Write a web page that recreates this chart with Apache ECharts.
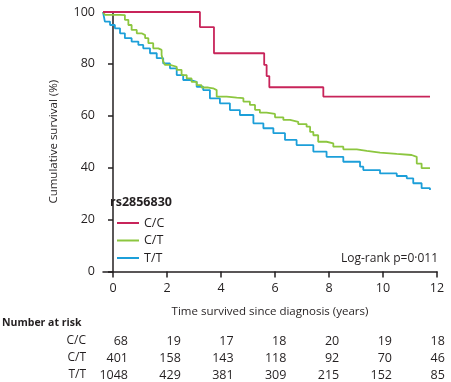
<!DOCTYPE html>
<html><head><meta charset="utf-8">
<script src="https://cdn.jsdelivr.net/npm/echarts@6/dist/echarts.min.js"></script>
<style>html,body{margin:0;padding:0;background:#fff}#c{width:451px;height:382px}</style>
</head><body><div id="c"></div>
<script>
// ---- data ----
const groups = ['C/C', 'C/T', 'T/T'];
const colors = ['#c8245a', '#8cc63f', '#1c9fd9'];
const xTicks = [0, 2, 4, 6, 8, 10, 12];
const yTicks = [0, 20, 40, 60, 80, 100];
// Kaplan-Meier curves: [time (years), cumulative survival %]
const ccCurve = [[-0.37,100],[3.22,94.2],[3.74,84.1],[5.6,79.6],[5.69,75.3],[5.79,71.0],[7.79,67.4],[11.74,67.4]];
const ctCurve = [[-0.37,100],[-0.3,98.9],[0.26,98.8],[0.44,97.0],[0.57,95.0],[0.69,93.1],[0.88,91.8],[1.06,91.1],[1.19,89.9],[1.31,88.0],[1.49,86.0],[1.68,85.4],[1.80,83.4],[1.86,80.9],[1.93,79.6],[2.11,78.9],[2.36,77.7],[2.54,75.7],[2.73,74.4],[2.91,73.1],[3.10,71.8],[3.28,70.9],[3.53,70.6],[3.71,69.9],[3.84,67.4],[4.21,67.0],[4.58,66.8],[4.83,65.5],[5.07,64.2],[5.26,62.3],[5.44,61.2],[5.69,60.7],[6.0,59.4],[6.31,58.4],[6.56,57.7],[6.86,56.8],[7.17,55.8],[7.30,53.8],[7.42,52.5],[7.60,50.0],[7.91,49.4],[8.16,48.1],[8.53,47.1],[9.03,46.5],[9.40,45.8],[9.89,45.3],[10.51,44.9],[11.06,44.2],[11.25,41.6],[11.43,39.8],[11.74,39.8]];
const ttCurve = [[-0.37,100],[-0.30,96.3],[-0.11,95.0],[0.07,93.7],[0.26,91.8],[0.44,89.9],[0.69,88.6],[0.94,87.3],[1.12,86.0],[1.37,84.1],[1.62,82.2],[1.86,80.2],[2.11,78.3],[2.36,75.7],[2.60,73.8],[2.85,73.1],[3.10,71.2],[3.34,69.9],[3.59,66.7],[3.96,64.8],[4.33,62.2],[4.70,60.3],[5.20,57.1],[5.57,55.2],[5.94,53.3],[6.37,50.7],[6.80,48.7],[7.42,46.2],[7.91,44.2],[8.53,42.3],[9.15,40.4],[9.27,39.1],[9.89,37.8],[10.51,36.8],[10.88,35.9],[11.12,34.0],[11.43,32.1],[11.74,31.4]];
const riskCC = [68, 19, 17, 18, 20, 19, 18];
const riskCT = [401, 158, 143, 118, 92, 70, 46];
const riskTT = [1048, 429, 381, 309, 215, 152, 85];
const legendTitle = 'rs2856830';
const pText = 'Log-rank p=0·011';
const xName = 'Time survived since diagnosis (years)';
const yName = 'Cumulative survival (%)';

// ---- chart ----
const FONT = '"Open Sans", sans-serif';
const INK = '#231f20';
const chart = echarts.init(document.getElementById('c'), null, {renderer: 'canvas'});
const curves = [ccCurve, ctCurve, ttCurve];
const option = {
  animation: false,
  textStyle: {fontFamily: FONT, color: INK},
  grid: {left: 103, right: 14, top: 12, bottom: 110.5},
  xAxis: {
    type: 'value', min: -0.37, max: 12,
    splitLine: {show: false},
    axisLine: {lineStyle: {color: INK, width: 1.5}},
    axisTick: {customValues: xTicks, length: 6, lineStyle: {color: INK, width: 1.5}},
    axisLabel: {customValues: xTicks, margin: 10, fontSize: 12.5, color: INK, fontFamily: FONT},
    name: xName, nameLocation: 'middle', nameGap: 34,
    nameTextStyle: {fontSize: 11.5, color: INK, fontFamily: FONT}
  },
  yAxis: {
    type: 'value', min: 0, max: 100, interval: 20,
    splitLine: {show: false},
    axisLine: {show: true, lineStyle: {color: INK, width: 1.5}},
    axisTick: {show: true, length: 5, lineStyle: {color: INK, width: 1.5}},
    axisLabel: {margin: 8, fontSize: 12.5, color: INK, fontFamily: FONT},
    name: yName, nameLocation: 'middle', nameGap: 43,
    nameTextStyle: {fontSize: 11.5, color: INK, fontFamily: FONT}
  },
  legend: {
    orient: 'vertical', left: 112, top: 211,
    icon: 'rect', itemWidth: 22, itemHeight: 2, itemGap: 3.5,
    textStyle: {fontSize: 12.5, color: INK, fontFamily: FONT, lineHeight: 14},
    data: groups
  },
  series: groups.map((g, i) => ({
    name: g, type: 'line', step: 'end', data: curves[i],
    showSymbol: false, symbol: 'none',
    lineStyle: {color: colors[i], width: 1.8},
    itemStyle: {color: colors[i]},
    z: 3 - i
  }))
};
chart.setOption(option);

function buildGraphics() {
  const g = [];
  g.push({type: 'text', left: 110, top: 196, style: {text: legendTitle, font: 'bold 12.5px ' + FONT, fill: INK}});
  const p12 = chart.convertToPixel({gridIndex: 0}, [12, 0]);
  g.push({type: 'text', x: p12[0] + 1, y: 259, style: {text: pText, font: '12px ' + FONT, fill: INK, align: 'right', verticalAlign: 'middle'}});
  g.push({type: 'text', x: 2, y: 323, style: {text: 'Number at risk', font: 'bold 10.5px ' + FONT, fill: INK, verticalAlign: 'middle'}});
  const rows = [riskCC, riskCT, riskTT];
  const rowY = [341, 358, 375];
  rows.forEach((row, r) => {
    g.push({type: 'text', x: 86, y: rowY[r], style: {text: groups[r], font: '12px ' + FONT, fill: INK, align: 'right', verticalAlign: 'middle'}});
    row.forEach((v, k) => {
      const t = xTicks[k];
      const px = chart.convertToPixel({gridIndex: 0}, [t, 0])[0];
      g.push({type: 'text', x: px + 15 - 0.6 * t, y: rowY[r], style: {text: String(v), font: '12.5px ' + FONT, fill: INK, align: 'right', verticalAlign: 'middle'}});
    });
  });
  chart.setOption({graphic: g});
}
buildGraphics();
</script></body></html>
